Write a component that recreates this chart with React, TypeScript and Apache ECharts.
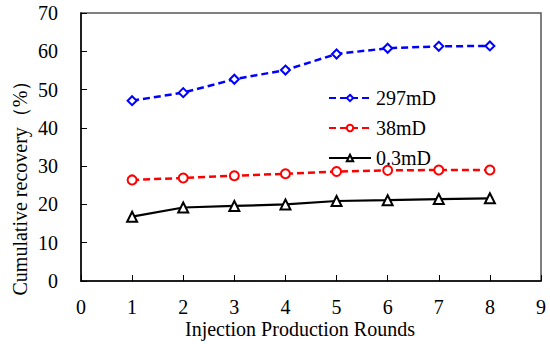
import React, { useEffect, useRef } from "react";
import * as echarts from "echarts";

const rounds = [1, 2, 3, 4, 5, 6, 7, 8];
const s297 = [47.1, 49.2, 52.7, 55.1, 59.3, 60.8, 61.3, 61.4];
const s38 = [26.4, 26.9, 27.5, 28.0, 28.6, 28.9, 29.0, 29.0];
const s03 = [16.8, 19.2, 19.6, 20.0, 20.9, 21.1, 21.4, 21.6];
const seriesNames = ["297mD", "38mD", "0.3mD"];

const FONT = "Liberation Serif";

export default function App() {
  const ref = useRef<HTMLDivElement>(null);
  useEffect(() => {
    if (!ref.current) return;
    const chart = echarts.init(ref.current, undefined, { renderer: "svg" });
    const pair = (arr: number[]) => rounds.map((r, i) => [r, arr[i]]);
    chart.setOption({
      animation: false,
      backgroundColor: "#fff",
      grid: {
        left: 81,
        right: 9,
        top: 13,
        bottom: 63,
        show: true,
        borderColor: "#555",
        borderWidth: 1.5,
      },
      legend: {
        orient: "vertical",
        left: 328,
        top: 88,
        padding: 0,
        itemWidth: 42,
        itemHeight: 8,
        itemGap: 10,
        textStyle: { fontFamily: FONT, fontSize: 20, color: "#000" },
        data: seriesNames,
      },
      xAxis: {
        type: "value",
        min: 0,
        max: 9,
        interval: 1,
        axisLine: { lineStyle: { color: "#000", width: 1.5 } },
        axisTick: { inside: true, length: 6, lineStyle: { color: "#000" } },
        axisLabel: { fontFamily: FONT, fontSize: 20, color: "#000", margin: 16 },
        splitLine: { show: false },
      },
      yAxis: {
        type: "value",
        min: 0,
        max: 70,
        interval: 10,
        axisLine: { show: true, lineStyle: { color: "#000", width: 1.5 } },
        axisTick: { show: true, inside: true, length: 6, lineStyle: { color: "#000" } },
        axisLabel: { fontFamily: FONT, fontSize: 20, color: "#000", margin: 23 },
        splitLine: { show: false },
      },
      graphic: [
        {
          type: "text",
          x: 300,
          y: 329,
          style: {
            text: "Injection Production Rounds",
            fontFamily: FONT,
            fontSize: 20,
            fill: "#000",
            align: "center",
            verticalAlign: "middle",
          },
        },
        {
          type: "text",
          x: 20,
          y: 183,
          rotation: Math.PI / 2,
          style: {
            text: "Cumulative recovery（%）",
            fontFamily: FONT,
            fontSize: 20,
            fill: "#000",
            align: "center",
            verticalAlign: "middle",
          },
        },
      ],
      series: [
        {
          name: seriesNames[0],
          type: "line",
          data: pair(s297),
          symbol: "emptyDiamond",
          symbolSize: 9,
          itemStyle: { color: "#0000ff", borderWidth: 1.5 },
          lineStyle: { color: "#0000ff", width: 2.5, type: [7, 4] },
        },
        {
          name: seriesNames[1],
          type: "line",
          data: pair(s38),
          symbol: "emptyCircle",
          symbolSize: 9,
          itemStyle: { color: "#ff0000", borderWidth: 1.5 },
          lineStyle: { color: "#ff0000", width: 2.5, type: [7, 4] },
        },
        {
          name: seriesNames[2],
          type: "line",
          data: pair(s03),
          symbol: "emptyTriangle",
          symbolSize: 10,
          itemStyle: { color: "#000", borderWidth: 1.5 },
          lineStyle: { color: "#000", width: 2.2 },
        },
      ],
    });
    return () => chart.dispose();
  }, []);
  return <div ref={ref} style={{ width: 550, height: 344, position: "absolute", left: 0, top: 0 }} />;
}
